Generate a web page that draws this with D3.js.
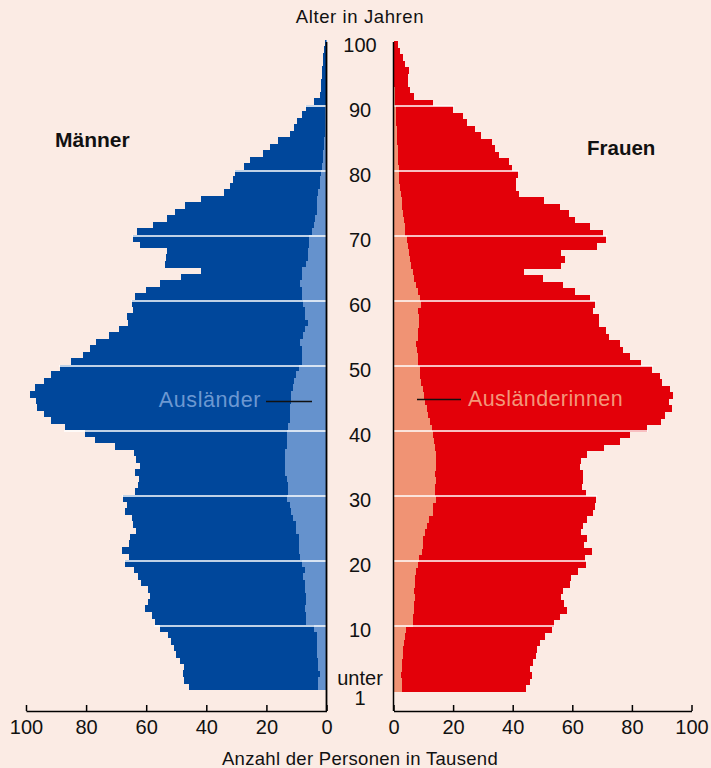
<!DOCTYPE html>
<html>
<head>
<meta charset="utf-8">
<script src="https://cdn.jsdelivr.net/npm/d3@7"></script>
<style>
    body { margin: 0; background: #fbebe4; }
    svg { display: block; font-family: 'Liberation Sans', Arial, sans-serif; }
    .axis path, .axis line { stroke: #000; stroke-width: 1.5; }
    .axis text { font-size: 20px; fill: #111; }
</style>
</head>
<body>
<svg id="chart" width="711" height="768"></svg>
<script>
// Bevölkerung nach Alter (0 bis 99), Anzahl in Tausend
var ages = d3.range(0, 100);

var menTotal = [
    45.7, 47.3, 47.7, 47.3, 48.7, 50, 50.7, 51.7, 52.7, 55.3,
    57, 58, 60.3, 59.3, 58.7, 59.3, 61.7, 62.7, 64, 67,
    65.7, 68, 65.7, 65.3, 63.3, 64.3, 64.7, 67, 66.3, 67.7,
    63.7, 62.7, 62.3, 63.7, 62, 63.3, 64, 70.3, 77, 80.3,
    87, 91.7, 94, 96.3, 96.7, 98.7, 97, 94, 91.7, 88.7,
    85, 81, 78.7, 76.7, 72.3, 69, 66, 66.3, 64.3, 64.7,
    63.7, 60, 55.3, 48.3, 41.7, 53.7, 53.3, 53, 62, 64.3,
    63, 57.7, 53, 50.3, 47, 41.7, 34, 32, 31, 30.3,
    27.3, 25.3, 21, 18.7, 16, 12.3, 10.7, 9.7, 8.3, 6.7,
    4.3, 2.3, 1.8, 1.7, 1.5, 1.4, 1.1, 1.0, 0.8, 0.6
];

var menForeign = [
    2.7, 2.7, 2.3, 2.7, 2.7, 3, 3, 3.3, 3.3, 4,
    6.7, 6.7, 7, 6.7, 6.7, 7, 7.3, 7.7, 7.3, 8,
    8.7, 9.3, 9.3, 9.3, 10, 10.3, 11, 11.7, 12.3, 13,
    12.7, 12.7, 13.3, 13.7, 13.7, 13.7, 13.7, 13.3, 13.3, 13,
    12.7, 12.3, 12.3, 12, 11.7, 11.7, 11, 10.7, 10, 9,
    8.3, 8.3, 8, 8.7, 7.7, 7, 6.3, 7, 7, 7.7,
    8.3, 8.3, 8.7, 8.3, 8, 6.7, 6.3, 6, 5.7, 5.7,
    4.7, 4, 3.7, 3.3, 3.3, 3, 2.7, 2.3, 2, 1.7,
    1.5, 1.3, 1, 0.8, 0.7, 0.6, 0.6, 0.5, 0.4, 0.4,
    0.3, 0.3, 0.2, 0.2, 0.2, 0.2, 0.1, 0.1, 0.1, 0.1
];

var womenTotal = [
    44.5, 45.9, 46.5, 45.9, 46.9, 47.9, 48.2, 49.2, 50.9, 53.2,
    53.9, 55.9, 58.3, 57.3, 56.3, 56.9, 59.3, 59.6, 62, 64.7,
    64.3, 66.7, 64, 65, 63, 63.6, 65, 67, 67.7, 68,
    64.7, 63.3, 63.6, 63.6, 62.6, 63, 65, 70.7, 76.1, 79.4,
    85.1, 89.8, 91.2, 93.5, 92.5, 93.8, 92.8, 90.2, 89.5, 86.8,
    83.1, 79.4, 77.1, 76.1, 72.4, 71.4, 69, 69, 67, 67.7,
    66, 61, 56.9, 50.2, 43.8, 56.3, 57.6, 56.3, 68.3, 71.4,
    70.4, 66, 61, 58.9, 55.9, 50.6, 42.2, 41.2, 41.2, 41.8,
    39.8, 38.8, 35.5, 34.1, 33.1, 29.4, 27.4, 24.7, 23.4, 20,
    13.3, 6.9, 5.6, 4.9, 4.9, 5.3, 3.9, 3.2, 2.2, 1.6
];

var womenForeign = [
    2.9, 2.9, 2.6, 2.9, 2.9, 3.2, 3.2, 3.6, 3.9, 4.3,
    6.6, 6.6, 6.9, 6.9, 7.3, 6.9, 7.3, 7.3, 7.6, 8.3,
    8.6, 9.6, 10, 10, 10.6, 11.3, 12, 13.3, 13.3, 14.3,
    14, 14, 14.3, 14, 14.3, 14.3, 14.3, 14, 13.6, 13.3,
    13, 12.3, 11.6, 11.3, 10.6, 10.3, 10, 9.3, 8.9, 8.9,
    8.3, 8.3, 7.9, 7.6, 8.3, 8.3, 8.6, 8.6, 8.3, 9.3,
    8.9, 8.3, 7.6, 6.9, 6.6, 5.9, 5.6, 5.3, 4.9, 4.6,
    3.9, 3.9, 3.6, 3.2, 2.9, 2.8, 2.6, 2.3, 2, 1.9,
    1.8, 1.6, 1.6, 1.4, 1.3, 1.2, 1.1, 1, 0.9, 0.8,
    0.5, 0.4, 0.4, 0.3, 0.3, 0.3, 0.3, 0.2, 0.2, 0.2
];

var countTicks = [0, 20, 40, 60, 80, 100];
var ageLabels = [10, 20, 30, 40, 50, 60, 70, 80, 90, 100];
var gridAges = [10, 20, 30, 40, 50, 60, 70, 80, 90];

var colors = {
    menTotal: '#00479b',
    menForeign: '#6592cd',
    womenTotal: '#e30009',
    womenForeign: '#f09374',
    menLabel: '#6c98d2',
    womenLabel: '#f3977a'
};

var svg = d3.select('#chart');

svg.append('rect')
    .attr('width', 711)
    .attr('height', 768)
    .attr('fill', '#fbebe4');

var y = d3.scaleLinear().domain([0, 100]).range([691, 41]);
var xLeft = d3.scaleLinear().domain([0, 100]).range([326.5, 26]);
var xRight = d3.scaleLinear().domain([0, 100]).range([393.5, 691.5]);

function drawBars(values, xScale, color, side, shift) {
    svg.append('g')
        .attr('shape-rendering', 'crispEdges')
        .selectAll('rect')
        .data(values)
        .join('rect')
        .attr('x', d => side === 'left' ? xScale(d) : xScale(0))
        .attr('width', d => Math.abs(xScale(d) - xScale(0)))
        .attr('y', (d, i) => y(i + 1) - shift)
        .attr('height', (d, i) => y(i) - y(i + 1) + 0.5)
        .attr('fill', color);
}

drawBars(menTotal, xLeft, colors.menTotal, 'left', 1.5);
drawBars(menForeign, xLeft, colors.menForeign, 'left', 1.5);
drawBars(womenTotal, xRight, colors.womenTotal, 'right', 0);
drawBars(womenForeign, xRight, colors.womenForeign, 'right', 0);

// weiße Linien alle zehn Jahre
function gridExtent(values, a) {
    return Math.max(values[a], values[a - 1]);
}

svg.append('g')
    .selectAll('line')
    .data(gridAges)
    .join('line')
    .attr('x1', xLeft(0))
    .attr('x2', a => xLeft(gridExtent(menTotal, a)) - 1)
    .attr('y1', a => y(a))
    .attr('y2', a => y(a))
    .attr('stroke', '#fff')
    .attr('stroke-width', 1.6);

svg.append('g')
    .selectAll('line')
    .data(gridAges)
    .join('line')
    .attr('x1', xRight(0))
    .attr('x2', a => xRight(gridExtent(womenTotal, a)) + 1)
    .attr('y1', a => y(a))
    .attr('y2', a => y(a))
    .attr('stroke', '#fff')
    .attr('stroke-width', 1.6);

// Achsen
var axisY = 711;

svg.append('g')
    .attr('class', 'axis')
    .attr('transform', 'translate(0,' + axisY + ')')
    .call(d3.axisBottom(xLeft).tickValues(countTicks).tickSizeInner(-6).tickSizeOuter(0).tickPadding(9));

svg.append('g')
    .attr('class', 'axis')
    .attr('transform', 'translate(0,' + axisY + ')')
    .call(d3.axisBottom(xRight).tickValues(countTicks).tickSizeInner(-6).tickSizeOuter(0).tickPadding(9));

svg.append('line')
    .attr('x1', xLeft(0)).attr('x2', xLeft(0))
    .attr('y1', 42).attr('y2', axisY)
    .attr('stroke', '#000').attr('stroke-width', 1.8);

svg.append('line')
    .attr('x1', xRight(0)).attr('x2', xRight(0))
    .attr('y1', 42).attr('y2', axisY)
    .attr('stroke', '#000').attr('stroke-width', 1.5);

// Altersbeschriftung in der Mitte
var midX = (xLeft(0) + xRight(0)) / 2;

svg.append('g')
    .selectAll('text')
    .data(ageLabels)
    .join('text')
    .attr('x', midX)
    .attr('y', a => y(a) + 3.5)
    .attr('dy', '0.35em')
    .attr('text-anchor', 'middle')
    .attr('font-size', 20)
    .attr('fill', '#111')
    .text(a => a);

svg.append('text')
    .attr('x', midX).attr('y', 685)
    .attr('text-anchor', 'middle')
    .attr('font-size', 20)
    .attr('fill', '#111')
    .text('unter');

svg.append('text')
    .attr('x', midX).attr('y', 705)
    .attr('text-anchor', 'middle')
    .attr('font-size', 20)
    .attr('fill', '#111')
    .text('1');

svg.append('text')
    .attr('x', midX).attr('y', 23)
    .attr('text-anchor', 'middle')
    .attr('font-size', 18.5)
    .attr('letter-spacing', 0.6)
    .attr('fill', '#111')
    .text('Alter in Jahren');

svg.append('text')
    .attr('x', midX).attr('y', 765)
    .attr('text-anchor', 'middle')
    .attr('font-size', 18.5)
    .attr('letter-spacing', 0.3)
    .attr('fill', '#111')
    .text('Anzahl der Personen in Tausend');

svg.append('text')
    .attr('x', 55).attr('y', 147)
    .attr('font-size', 21)
    .attr('font-weight', 'bold')
    .attr('fill', '#111')
    .text('Männer');

svg.append('text')
    .attr('x', 587).attr('y', 155)
    .attr('font-size', 20.5)
    .attr('font-weight', 'bold')
    .attr('fill', '#111')
    .text('Frauen');

// Beschriftung Ausländer
svg.append('text')
    .attr('x', 261).attr('y', 407)
    .attr('text-anchor', 'end')
    .attr('font-size', 21.5)
    .attr('letter-spacing', 0.6)
    .attr('fill', colors.menLabel)
    .text('Ausländer');

svg.append('line')
    .attr('x1', 266).attr('x2', 312)
    .attr('y1', 401.5).attr('y2', 401.5)
    .attr('stroke', '#111').attr('stroke-width', 1.5);

svg.append('text')
    .attr('x', 468).attr('y', 406)
    .attr('font-size', 21.5)
    .attr('letter-spacing', 0.4)
    .attr('fill', colors.womenLabel)
    .text('Ausländerinnen');

svg.append('line')
    .attr('x1', 417).attr('x2', 461)
    .attr('y1', 399.5).attr('y2', 399.5)
    .attr('stroke', '#111').attr('stroke-width', 1.5);
</script>
</body>
</html>
